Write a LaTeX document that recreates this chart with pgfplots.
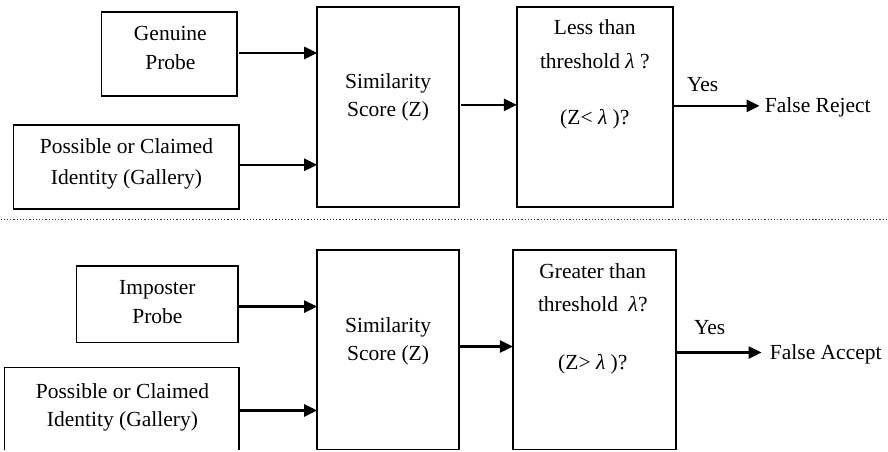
\documentclass[border=0pt]{standalone}
\usepackage{fontspec}
\setmainfont{Liberation Serif}
\usepackage{pgfplots}
\pgfplotsset{compat=1.18}
\usetikzlibrary{arrows.meta}

% one axis unit = one pixel of the reference (888 x 451)
\newcommand\lbl[3]{\node[anchor=base,inner sep=0pt] at (axis cs:#1,#2) {#3};}
\newcommand\lblw[3]{\node[anchor=base west,inner sep=0pt] at (axis cs:#1,#2) {#3};}
\newcommand\lam{{\itshape λ}}

\begin{document}
\begin{tikzpicture}
\fontsize{10.8}{13}\selectfont
\begin{axis}[
    scale only axis,
    width=444bp, height=225.5bp,
    xmin=0, xmax=888, ymin=0, ymax=451,
    y dir=reverse,
    hide axis,
    clip=false,
    box/.style={black, line width=0.85bp, no marks},
    arr/.style={black, line width=1.2bp, no marks, -{Triangle[length=6.5bp,width=6bp]}},
]
\path (axis cs:0,0) rectangle (axis cs:888,451);

% ---- top: genuine probe ----
\addplot[box] coordinates {(101,12) (237,12) (237,96) (101,96)} -- cycle;
\addplot[box] coordinates {(13,125) (239,125) (239,209) (13,209)} -- cycle;
\addplot[box] coordinates {(317,7) (459,7) (459,207) (317,207)} -- cycle;
\addplot[box] coordinates {(517,7) (673,7) (673,207) (517,207)} -- cycle;

\addplot[arr] coordinates {(239,53) (317,53)};
\addplot[arr] coordinates {(240,165) (317,165)};
\addplot[arr] coordinates {(461,105) (517,105)};
\addplot[arr] coordinates {(673,106) (760,106)};

\lbl{170}{40.5}{Genuine}
\lbl{170}{69.5}{Probe}
\lbl{126}{154}{Possible or Claimed}
\lbl{126}{185}{Identity (Gallery)}
\lbl{388}{89}{Similarity}
\lbl{388}{117}{Score (Z)}
\lbl{595}{35}{Less than}
\lbl{595}{69}{threshold \lam\ ?}
\lbl{595}{125}{(Z< \lam\ )?}
\lbl{703}{92}{Yes}
\lblw{765}{113}{False Reject}

% ---- separator ----
\addplot[black!80, line width=0.6bp, dash pattern=on 0.6bp off 1bp, no marks]
    coordinates {(0,220) (888,220)};

% ---- bottom: imposter probe ----
\addplot[box] coordinates {(76,266) (238,266) (238,343) (76,343)} -- cycle;
\addplot[box] coordinates {(4,451) (4,368) (239,368) (239,451)};
\addplot[box] coordinates {(317,250) (459,250) (459,450) (317,450)} -- cycle;
\addplot[box] coordinates {(513,250) (676,250) (676,450) (513,450)} -- cycle;

\addplot[arr] coordinates {(238,307) (317,307)};
\addplot[arr] coordinates {(239,411) (317,411)};
\addplot[arr] coordinates {(459,347) (513,347)};
\addplot[arr] coordinates {(676,353) (762,353)};

\lbl{157}{295}{Imposter}
\lbl{157}{324}{Probe}
\lbl{122}{399}{Possible or Claimed}
\lbl{122}{427}{Identity (Gallery)}
\lbl{388}{333}{Similarity}
\lbl{388}{361}{Score (Z)}
\lbl{593}{279}{Greater than}
\lbl{593}{312}{threshold \ \lam?}
\lbl{593}{370}{(Z> \lam\ )?}
\lbl{710}{335}{Yes}
\lblw{770}{360}{False Accept}
\end{axis}
\end{tikzpicture}
\end{document}
